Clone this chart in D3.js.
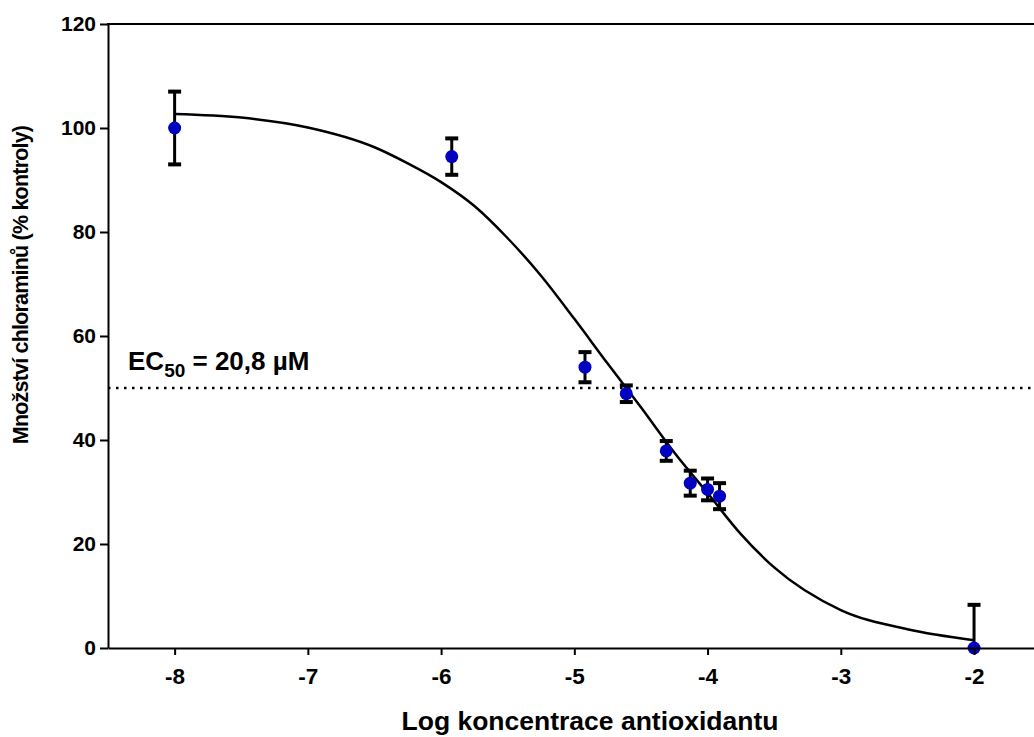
<html>
    <head>
        <script src="https://d3js.org/d3.v7.min.js"></script>
        <style>
            body { margin: 0; background: #fff; }
            text { font-family: Arial, "Liberation Sans", sans-serif; font-weight: bold; fill: #000; }
            .axis path, .axis line { stroke: #000; stroke-width: 2px; }
            .axis text { font-size: 21px; }
            .fit { fill: none; stroke: #000; stroke-width: 2.5px; }
            .err { stroke: #000; stroke-width: 3px; }
            .cap { stroke: #000; stroke-width: 4px; }
        </style>
    </head>
    <body>
        <script>
            // measured points (log concentration, mean % of control, error)
            var logConc = [-8, -5.92, -4.92, -4.61, -4.31, -4.13, -4.0, -3.91, -2];
            var meanPct = [100, 94.5, 54.0, 48.9, 37.9, 31.7, 30.5, 29.2, 0];
            var errPct  = [7.0, 3.5, 2.9, 1.6, 1.9, 2.4, 2.1, 2.5, 8.3];

            // fitted curve
            var fitX = [-8, -7.5, -7, -6.5, -6.25, -6, -5.75, -5.5, -5.25, -5, -4.75, -4.5, -4.25, -4, -3.75, -3.5, -3, -2.5, -2];
            var fitY = [102.7, 102.0, 100.1, 96.3, 93.2, 89.6, 85.0, 78.8, 71.6, 63.3, 54.7, 46.3, 37.6, 29.8, 21.9, 15.5, 7.3, 3.6, 1.5];

            var xTicks = [-8, -7, -6, -5, -4, -3, -2];
            var yTicks = [0, 20, 40, 60, 80, 100, 120];
            var ec50Level = 50;

            var W = 1034, H = 737;
            var plotLeft = 108, plotTop = 24, plotBottom = 648;

            var x = d3.scaleLinear().domain([-8.5, -1.55]).range([plotLeft, W]);
            var y = d3.scaleLinear().domain([0, 120]).range([plotBottom, plotTop]);

            var svg = d3.select("body").append("svg")
                .attr("width", W)
                .attr("height", H);

            // plot clip so the lower error bar of the last point stops at 0
            svg.append("clipPath").attr("id", "plot")
                .append("rect")
                    .attr("x", plotLeft).attr("y", plotTop)
                    .attr("width", W - plotLeft).attr("height", plotBottom - plotTop);

            // dotted EC50 line
            svg.append("line")
                .attr("x1", plotLeft).attr("x2", W)
                .attr("y1", y(ec50Level)).attr("y2", y(ec50Level))
                .attr("stroke", "#000")
                .attr("stroke-width", 2.5)
                .attr("stroke-dasharray", "2.5,5.5");

            var line = d3.line()
                .x(function(d) { return x(d[0]); })
                .y(function(d) { return y(d[1]); })
                .curve(d3.curveMonotoneX);

            svg.append("path")
                .datum(d3.zip(fitX, fitY))
                .attr("class", "fit")
                .attr("d", line);

            var pts = d3.range(logConc.length).map(function(i) {
                return {x: logConc[i], y: meanPct[i], e: errPct[i]};
            });

            var bars = svg.append("g").attr("clip-path", "url(#plot)")
                .selectAll("g").data(pts).enter().append("g");

            bars.append("line").attr("class", "err")
                .attr("x1", function(d) { return x(d.x); })
                .attr("x2", function(d) { return x(d.x); })
                .attr("y1", function(d) { return y(d.y + d.e); })
                .attr("y2", function(d) { return y(d.y - d.e); });

            [1, -1].forEach(function(s) {
                bars.append("line").attr("class", "cap")
                    .attr("x1", function(d) { return x(d.x) - 6.5; })
                    .attr("x2", function(d) { return x(d.x) + 6.5; })
                    .attr("y1", function(d) { return y(d.y + s * d.e); })
                    .attr("y2", function(d) { return y(d.y + s * d.e); });
            });

            svg.append("g").selectAll("circle").data(pts).enter().append("circle")
                .attr("cx", function(d) { return x(d.x); })
                .attr("cy", function(d) { return y(d.y); })
                .attr("r", 6.5)
                .attr("fill", "#0000c0");

            // axes
            svg.append("g").attr("class", "axis")
                .attr("transform", "translate(0," + plotBottom + ")")
                .call(d3.axisBottom(x).tickValues(xTicks).tickSize(7).tickSizeOuter(0).tickPadding(13)
                    .tickFormat(function(d) { return "-" + Math.abs(d); }))
                .selectAll("text").style("font-size", "22.5px");

            svg.append("g").attr("class", "axis")
                .attr("transform", "translate(" + plotLeft + ",0)")
                .call(d3.axisLeft(y).tickValues(yTicks).tickSize(8).tickSizeOuter(0).tickPadding(4));

            // top frame line
            svg.append("line")
                .attr("x1", plotLeft - 1).attr("x2", W)
                .attr("y1", plotTop).attr("y2", plotTop)
                .attr("stroke", "#000").attr("stroke-width", 2);

            // titles
            svg.append("text")
                .attr("x", 590).attr("y", 730)
                .attr("text-anchor", "middle")
                .style("font-size", "26.5px")
                .text("Log koncentrace antioxidantu");

            svg.append("text")
                .attr("transform", "translate(28,285) rotate(-90)")
                .attr("text-anchor", "middle")
                .style("font-size", "21.5px")
                .style("letter-spacing", "-0.8px")
                .text("Množství chloraminů (% kontroly)");

            var ec = svg.append("text")
                .attr("x", 128).attr("y", 370)
                .style("font-size", "26px");
            ec.append("tspan").text("EC");
            ec.append("tspan").attr("dy", 7).style("font-size", "19px").text("50");
            ec.append("tspan").attr("dy", -7).text(" = 20,8 \u00b5M");
        </script>
    </body>
</html>
